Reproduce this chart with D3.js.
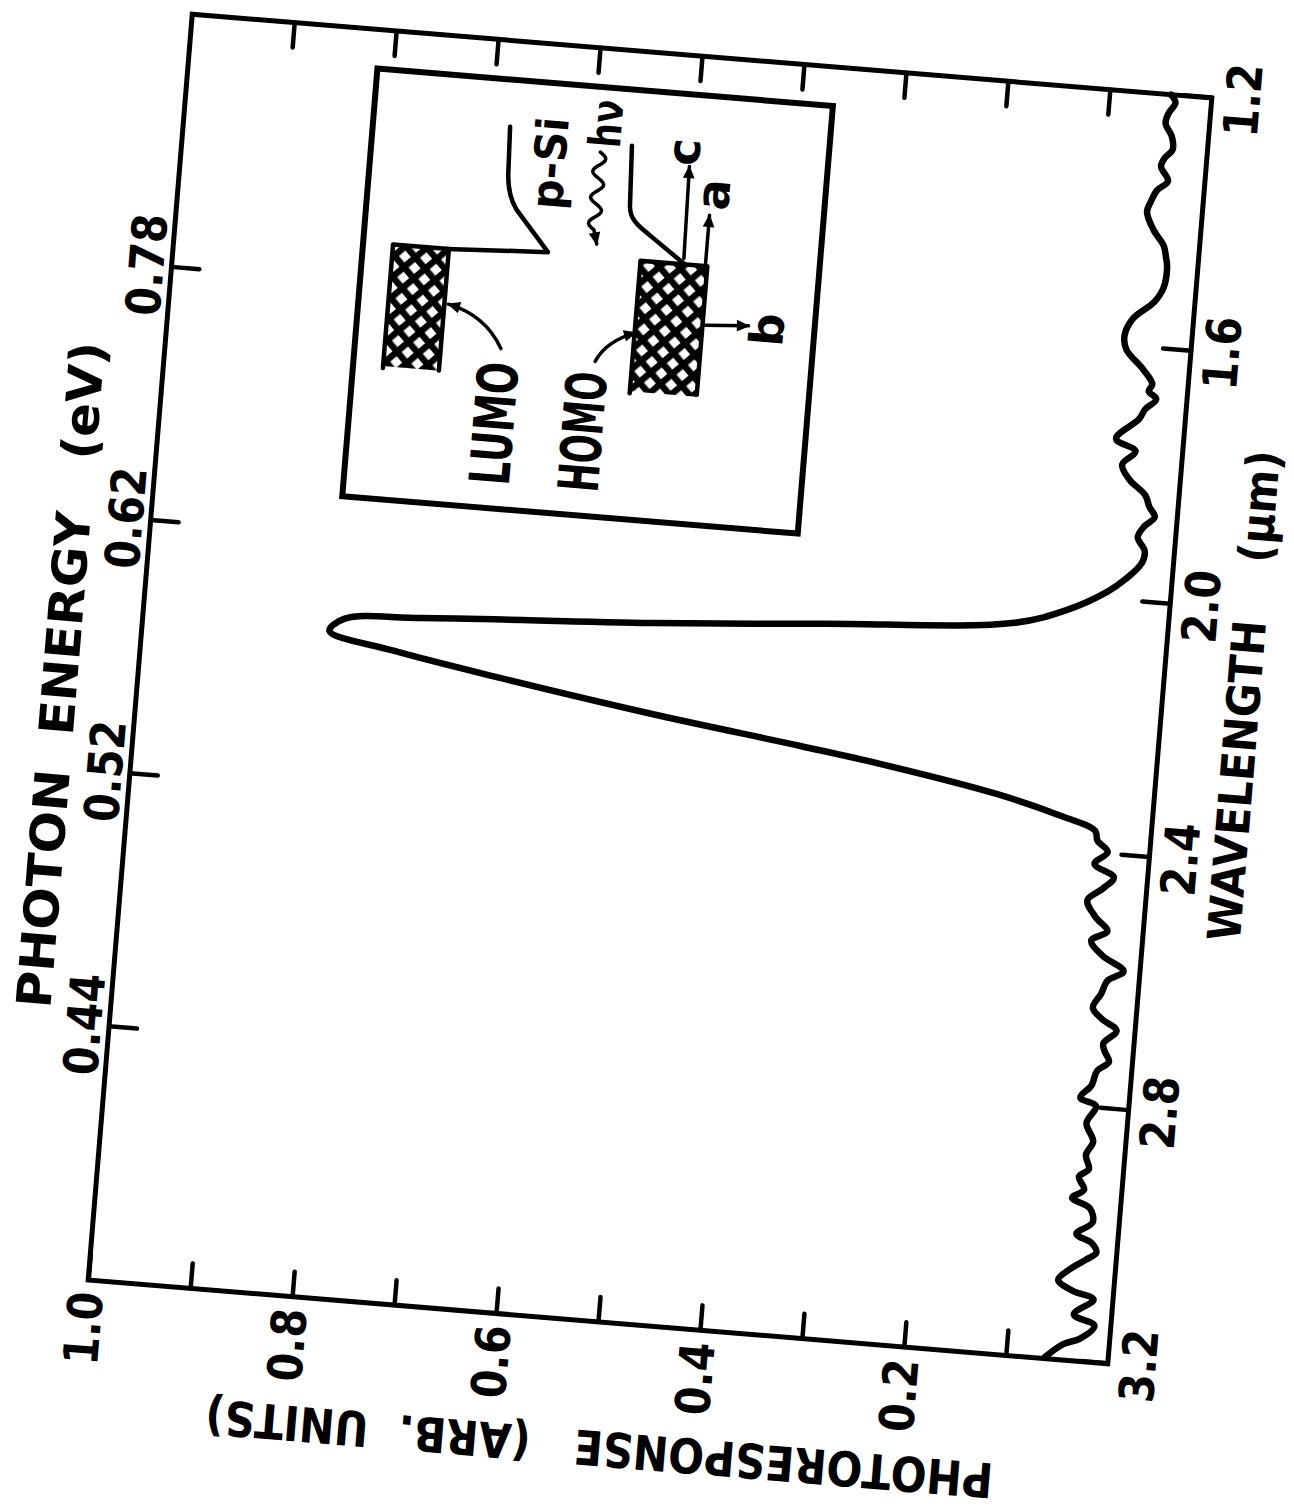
<!DOCTYPE html>
<html>
<head>
<meta charset="utf-8">
<script src="https://cdn.jsdelivr.net/npm/d3@7"></script>
<style>
  body { margin: 0; background: #fff; }
  text { font-family: "DejaVu Sans", sans-serif; font-weight: bold; fill: #000; }
</style>
</head>
<body>
<svg id="chart" width="1294" height="1512"></svg>
<script>
// photoresponse spectrum (wavelength in um, response in arb. units)
const wavelength = [
  1.200, 1.212, 1.230, 1.246, 1.265, 1.286, 1.300, 1.314, 1.336, 1.352,
  1.370, 1.387, 1.415, 1.438, 1.455, 1.471, 1.505, 1.528, 1.556, 1.584,
  1.606, 1.635, 1.657, 1.668, 1.680, 1.697, 1.713, 1.747, 1.764, 1.787,
  1.809, 1.832, 1.850, 1.865, 1.882, 1.899, 1.920, 1.939, 1.967, 1.988,
  2.022, 2.049, 2.075, 2.096, 2.118, 2.129, 2.150, 2.173, 2.202, 2.239,
  2.270, 2.288, 2.320, 2.345, 2.365, 2.380, 2.397, 2.417, 2.436, 2.455,
  2.475, 2.500, 2.521, 2.538, 2.560, 2.582, 2.599, 2.620, 2.643, 2.660,
  2.676, 2.698, 2.710, 2.726, 2.742, 2.765, 2.786, 2.797, 2.825, 2.853,
  2.875, 2.897, 2.910, 2.930, 2.944, 2.958, 2.980, 3.000, 3.013, 3.027,
  3.040, 3.057, 3.075, 3.090, 3.101, 3.127, 3.142, 3.164, 3.175, 3.198
];
const response = [
  0.040, 0.035, 0.041, 0.043, 0.036, 0.034, 0.041, 0.044, 0.036, 0.046,
  0.051, 0.054, 0.046, 0.035, 0.032, 0.030, 0.032, 0.040, 0.059, 0.066,
  0.063, 0.045, 0.035, 0.038, 0.030, 0.040, 0.045, 0.066, 0.046, 0.058,
  0.050, 0.033, 0.028, 0.022, 0.032, 0.037, 0.029, 0.031, 0.046, 0.062,
  0.100, 0.150, 0.335, 0.503, 0.728, 0.803, 0.817, 0.753, 0.647, 0.496,
  0.349, 0.269, 0.154, 0.092, 0.055, 0.052, 0.041, 0.053, 0.033, 0.043,
  0.057, 0.048, 0.035, 0.050, 0.038, 0.016, 0.031, 0.036, 0.043, 0.033,
  0.018, 0.030, 0.028, 0.023, 0.034, 0.038, 0.048, 0.032, 0.040, 0.032,
  0.038, 0.034, 0.043, 0.037, 0.048, 0.030, 0.026, 0.041, 0.025, 0.020,
  0.030, 0.045, 0.055, 0.040, 0.019, 0.037, 0.016, 0.029, 0.045, 0.062
];

// axis ticks and labels
const wlTicks = [1.2, 1.6, 2.0, 2.4, 2.8, 3.2];
const energyTickWl = [2.8, 2.4, 2.0, 1.6];
const energyLabels = ["0.44", "0.52", "0.62", "0.78"];
const respTicks = [0.1, 0.2, 0.3, 0.4, 0.5, 0.6, 0.7, 0.8, 0.9, 1.0];
const respLabels = ["", "0.2", "", "0.4", "", "0.6", "", "0.8", "", "1.0"];

const W = 1270, H = 1023;   // plot box before the page is turned
const svg = d3.select("#chart");
const defs = svg.append("defs");

// the whole figure is printed turned on its side (and a bit skewed by the scan)
const g = svg.append("g")
  .attr("transform", "translate(650,689) rotate(-85.3) translate(" + (-W / 2) + "," + (-H / 2) + ")");

const x = d3.scaleLinear().domain([3.2, 1.2]).range([0, W]);
const y = d3.scaleLinear().domain([0, 1]).range([H, 0]);

function squeeze(sel, k) {
  sel.each(function () {
    const len = this.getComputedTextLength();
    if (len > 0) d3.select(this).attr("textLength", len * k).attr("lengthAdjust", "spacingAndGlyphs");
  });
}

function styleAxis(ax) {
  ax.attr("font-size", 48).attr("font-family", null);
  ax.select(".domain").remove();
  ax.selectAll(".tick line").attr("stroke", "#000").attr("stroke-width", 4.5).attr("stroke-linecap", "round");
  squeeze(ax.selectAll(".tick text"), 0.86);
}

// left: photoresponse
g.append("g")
  .call(d3.axisLeft(y).tickValues(respTicks).tickFormat((d, i) => respLabels[i])
    .tickSizeInner(-25).tickSizeOuter(0).tickPadding(12))
  .call(styleAxis);

// right: same ticks, no labels
g.append("g")
  .attr("transform", "translate(" + W + ",0)")
  .call(d3.axisRight(y).tickValues(respTicks.slice(0, 9)).tickFormat("")
    .tickSizeInner(-25).tickSizeOuter(0))
  .call(styleAxis);

// bottom: wavelength
g.append("g")
  .attr("transform", "translate(0," + H + ")")
  .call(d3.axisBottom(x).tickValues(wlTicks).tickFormat(d3.format(".1f"))
    .tickSizeInner(-28).tickSizeOuter(0).tickPadding(14))
  .call(styleAxis);

// top: photon energy
g.append("g")
  .call(d3.axisTop(x).tickValues(energyTickWl).tickFormat((d, i) => energyLabels[i])
    .tickSizeInner(-28).tickSizeOuter(0).tickPadding(8))
  .call(styleAxis);

// frame
g.append("rect")
  .attr("width", W).attr("height", H)
  .attr("fill", "none").attr("stroke", "#000").attr("stroke-width", 5);

// axis titles
g.append("text")
  .attr("x", 601).attr("y", -60)
  .attr("text-anchor", "middle").attr("font-size", 48)
  .attr("textLength", 668).attr("lengthAdjust", "spacingAndGlyphs")
  .text("PHOTON\u00a0\u00a0ENERGY\u00a0\u00a0\u00a0(eV)");

g.append("text")
  .attr("x", 677).attr("y", 1120)
  .attr("text-anchor", "middle").attr("font-size", 46)
  .attr("textLength", 492).attr("lengthAdjust", "spacingAndGlyphs")
  .text("WAVELENGTH\u00a0\u00a0\u00a0\u00a0(\u03bcm)");

g.append("text")
  .attr("transform", "translate(-109,523) rotate(-90)")
  .attr("text-anchor", "middle").attr("font-size", 48)
  .attr("textLength", 790).attr("lengthAdjust", "spacingAndGlyphs")
  .text("PHOTORESPONSE\u00a0\u00a0\u00a0(ARB.\u00a0\u00a0UNITS)");

// spectrum
const line = d3.line()
  .x((d, i) => x(wavelength[i]))
  .y((d, i) => y(response[i]))
  .curve(d3.curveCatmullRom.alpha(0.5));

g.append("path")
  .datum(response)
  .attr("d", line)
  .attr("fill", "none").attr("stroke", "#000")
  .attr("stroke-width", 6.5).attr("stroke-linejoin", "round").attr("stroke-linecap", "round");

// ---- inset: band diagram ----
const mesh = defs.append("pattern").attr("id", "mesh")
  .attr("patternUnits", "userSpaceOnUse").attr("width", 15).attr("height", 15)
  .attr("patternTransform", "rotate(45)");
mesh.append("rect").attr("width", 15).attr("height", 15).attr("fill", "#000");
mesh.append("rect").attr("x", 3.5).attr("y", 3.5).attr("width", 8.5).attr("height", 8.5).attr("fill", "#fff");

defs.append("marker").attr("id", "head")
  .attr("viewBox", "0 0 10 10").attr("refX", 9).attr("refY", 5)
  .attr("markerUnits", "userSpaceOnUse").attr("markerWidth", 16).attr("markerHeight", 13)
  .attr("orient", "auto")
  .append("path").attr("d", "M0,0.5 L10,5 L0,9.5 Z").attr("fill", "#000");

const inset = g.append("g").attr("transform", "translate(802,189)");

inset.append("rect")
  .attr("width", 429).attr("height", 457)
  .attr("fill", "#fff").attr("stroke", "#000").attr("stroke-width", 6);

const thin = { fill: "none", stroke: "#000", "stroke-width": 4.5, "stroke-linecap": "round", "stroke-linejoin": "round" };
function stroke(sel) { Object.entries(thin).forEach(([k, v]) => sel.attr(k, v)); return sel; }

// LUMO and HOMO blocks
inset.append("path").attr("d", "M133,30 H255 V86 H133 Z").attr("fill", "url(#mesh)");
stroke(inset.append("path").attr("d", "M131,30 H255 V86 H133"));
inset.append("path").attr("d", "M128,278 H259 V345 H128 Z").attr("fill", "url(#mesh)");
stroke(inset.append("path").attr("d", "M126,278 H259 V345 H130"));

// p-Si band edges
stroke(inset.append("path").attr("d", "M255,84 L260,185 L300,150 Q314,140 336,139 L382,137"));
stroke(inset.append("path").attr("d", "M373,260 L312,263 C300,264 294,272 286,284 L260,321"));

// arrows
const arrows = [
  "M160,146 Q192,128 200,90",
  "M155,241 Q176,250 187,279",
  "M265,321 L357,319",
  "M260,343 L310,343",
  "M200,347 L203,391"
];
arrows.forEach(d => stroke(inset.append("path").attr("d", d))
  .attr("stroke-width", 3.5).attr("marker-end", "url(#head)"));

// wavy photon arrow
const wave = d3.range(0, 79, 2).map(t => [364 - t, 229 + 6 * Math.sin(t / 26 * 2 * Math.PI)]);
wave.push([272, 233]);
stroke(inset.append("path").attr("d", d3.line()(wave))).attr("stroke-width", 3.5).attr("marker-end", "url(#head)");

// inset labels
const lbl = [
  { t: "LUMO", x: 85, y: 165, s: 56, w: 123 },
  { t: "HOMO", x: 84, y: 254, s: 56, w: 120 },
  { t: "p-Si", x: 349, y: 195, s: 44, w: 92 },
  { t: "h\u03bd", x: 393, y: 248, s: 44, w: 48 },
  { t: "c", x: 371, y: 328, s: 46, w: 0 },
  { t: "a", x: 331, y: 361, s: 46, w: 0 },
  { t: "b", x: 201, y: 426, s: 46, w: 0 }
];
lbl.forEach(d => {
  const t = inset.append("text")
    .attr("x", d.x).attr("y", d.y)
    .attr("text-anchor", "middle").attr("font-size", d.s)
    .text(d.t);
  if (d.w) t.attr("textLength", d.w).attr("lengthAdjust", "spacingAndGlyphs");
});
</script>
</body>
</html>
